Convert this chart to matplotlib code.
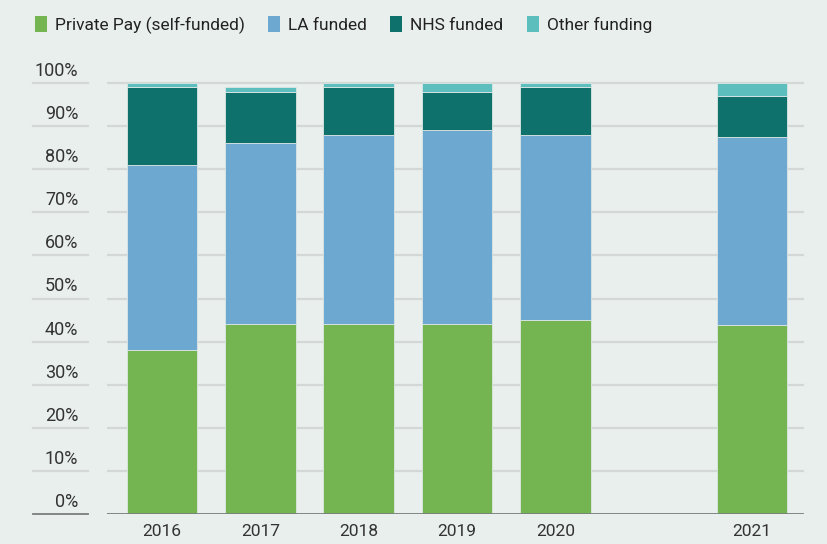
import matplotlib
matplotlib.use("Agg")
import matplotlib.pyplot as plt
from matplotlib.patches import Patch
import numpy as np

plt.rcParams['font.family'] = ['Roboto', 'DejaVu Sans']

# funding mix of care home residents, % of total
years = ['2016', '2017', '2018', '2019', '2020', '2021']
slots = [0, 1, 2, 3, 4, 6]   # 2021 sits one slot further right
private_pay = [38, 44, 44, 44, 45, 43.9]
la_funded = [43, 42, 44, 45, 43, 43.6]
nhs_funded = [18, 12, 11, 9, 11, 9.5]
other_funding = [1, 1, 1, 2, 1, 3.0]

series = [
    ("Private Pay (self-funded)", private_pay, "#74b451"),
    ("LA funded", la_funded, "#6ca8cf"),
    ("NHS funded", nhs_funded, "#0f716c"),
    ("Other funding", other_funding, "#5dbfbd"),
]

bg = "#e9efed"
fig = plt.figure(figsize=(8.27, 5.44), dpi=100, facecolor=bg)
px_per_pct = 4.31
ax = fig.add_axes([107 / 827, 30 / 544, 703 / 827, 102 * px_per_pct / 544])
ax.set_facecolor(bg)

bottom = np.zeros(len(years))
for name, vals, col in series:
    vals = np.array(vals, dtype=float)
    ax.bar(slots, vals, bottom=bottom, width=0.72, color=col,
           edgecolor="#dde6e4", linewidth=0.6, zorder=3)
    bottom += vals

ax.set_ylim(0, 102)
ax.set_xlim(-0.56, 6.59)

# gridlines plus the short rule under each % label
for v in range(0, 101, 10):
    c = "#7a7f7e" if v == 0 else "#d3d8d6"
    lw = 1.3 if v == 0 else 1.6
    ax.axhline(v, color=c, lw=lw, zorder=1 if v else 4, xmax=0.99)
    ax.plot([-0.105, -0.027], [v, v], transform=ax.get_yaxis_transform(),
            color=c, lw=lw, clip_on=False)
    ax.text(-0.041, v + 0.7, f"{v}%", transform=ax.get_yaxis_transform(),
            ha="right", va="bottom", fontsize=13, color="#333333")

for s in ax.spines.values():
    s.set_visible(False)
ax.set_yticks([])
ax.set_xticks(slots)
ax.set_xticklabels(years, fontsize=12.5, color="#333333")
ax.tick_params(axis="x", length=0, pad=7.5)

handles = [Patch(facecolor=col, edgecolor="none") for _, _, col in series]
fig.legend(handles, [s[0] for s in series], loc="upper left",
           bbox_to_anchor=(19 / 827, 1 - 0 / 544), ncol=4, frameon=False,
           fontsize=12.5, handlelength=0.7, handleheight=1.1,
           handletextpad=0.45, columnspacing=1.35, labelcolor="#222222")

fig.savefig("out.png", dpi=100, facecolor=bg)
